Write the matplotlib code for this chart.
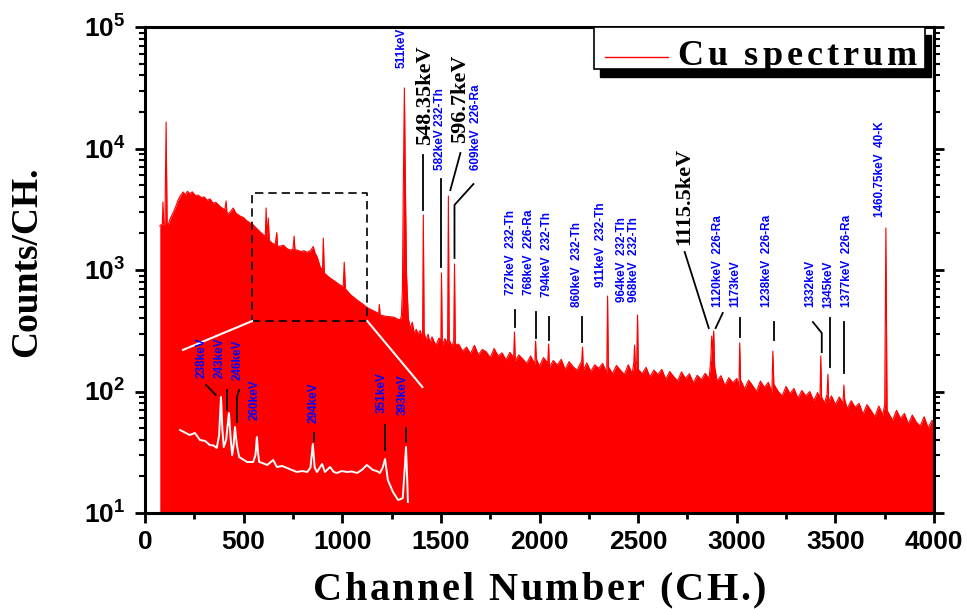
import matplotlib
matplotlib.use('Agg')
import matplotlib.pyplot as plt
from matplotlib.patches import Rectangle
from matplotlib.transforms import IdentityTransform
from matplotlib.ticker import LogLocator, NullFormatter

plt.rcParams['mathtext.fontset'] = 'custom'
plt.rcParams['mathtext.rm'] = 'Liberation Sans:bold'
plt.rcParams['mathtext.it'] = 'Liberation Sans:bold'
plt.rcParams['mathtext.bf'] = 'Liberation Sans:bold'

SANS = 'Liberation Sans'
SERIF = 'Liberation Serif'
BLUE = '#0000ff'

# ---- main spectrum (channel, counts) ----
spec_ch = [75, 80, 88, 91, 95, 101, 107, 112, 117, 130, 142, 155, 168, 180, 193, 205, 215,
           228, 240, 255, 269, 285, 300, 315, 330, 345, 360, 381, 395, 405, 411, 415, 421,
           435, 447, 460, 482, 500, 515, 533, 543, 560, 584, 600, 610, 614, 618, 625, 630,
           643, 660, 668, 672, 690, 702, 720, 736, 750, 756, 760, 770, 790, 805, 822, 840,
           853, 862, 873, 888, 900, 904, 909, 930, 954, 975, 990, 1005, 1010, 1016, 1040,
           1076, 1100, 1127, 1160, 1185, 1188, 1192, 1225, 1259, 1280, 1294,
           1300, 1305, 1309, 1315, 1320, 1326, 1335, 1345, 1355, 1365, 1375, 1385, 1395,
           1407, 1411, 1415, 1425, 1435, 1445, 1455, 1465, 1475, 1490, 1500, 1503, 1507,
           1520, 1534, 1538, 1542, 1556, 1565, 1569, 1573,
           1590, 1610, 1630, 1650, 1670, 1690, 1710, 1730, 1750, 1770, 1790, 1810, 1830,
           1850, 1869, 1873, 1877, 1895, 1915, 1935, 1955, 1976, 1980, 1984, 2000, 2020,
           2042, 2046, 2050, 2070, 2090, 2110, 2130, 2150, 2170, 2190, 2214, 2218, 2222,
           2240, 2260, 2280, 2300, 2320, 2341, 2345, 2349, 2370, 2390, 2410, 2430, 2450,
           2470, 2478, 2482, 2486, 2493, 2497, 2501, 2520, 2540, 2560, 2580, 2600, 2620,
           2640, 2660, 2680, 2700, 2720, 2740, 2760, 2780, 2800, 2820, 2840, 2860, 2868,
           2873, 2878, 2883, 2888, 2900, 2920, 2940, 2960, 2980, 3000, 3011, 3015, 3019,
           3040, 3060, 3080, 3100, 3120, 3140, 3160, 3178, 3183, 3188, 3210, 3230, 3250,
           3270, 3290, 3310, 3330, 3350, 3370, 3390, 3410, 3422, 3426, 3430, 3445, 3458,
           3462, 3466, 3480, 3500, 3520, 3539, 3543, 3547, 3560, 3580, 3600, 3620, 3640,
           3660, 3680, 3700, 3720, 3740, 3750, 3756, 3762, 3775, 3790, 3810, 3830, 3850,
           3870, 3890, 3910, 3930, 3950, 3970, 3990, 4000]
spec_counts = [2300, 2350, 2400, 3630, 2350, 2400, 16500, 2400, 2345, 2700, 2945, 3300, 3770, 4100, 4385, 4150, 4450,
               4250, 4400, 4100, 4140, 3950, 4000, 3750, 3850, 3550, 3600, 3330, 3200, 3150, 3700, 3000, 2880,
               3050, 3240, 2950, 2780, 2700, 2550, 2440, 2400, 2250, 2055, 1950, 1900, 3240, 1850, 2680, 1750,
               1670, 1620, 2030, 1560, 1580, 1600, 1500, 1460, 1480, 1900, 1470, 1460, 1420, 1440, 1400, 1450,
               1560, 1380, 1280, 1060, 1000, 1830, 945, 880, 825, 780, 750, 730, 1160, 700, 630,
               565, 530, 490, 460, 440, 520, 425, 415, 410, 395, 390,
               420, 700, 4000, 31500, 5000, 900, 400, 330, 372, 300, 325, 296, 318,
               270, 2840, 305, 262, 296, 250, 282, 258, 240, 275, 262, 945, 238,
               272, 248, 4060, 266, 236, 260, 1120, 244,
               245, 215, 232, 205, 240, 200, 222, 212, 190, 226, 196, 208, 182,
               210, 190, 309, 178, 200, 185, 170, 196, 168, 260, 185, 162, 190,
               172, 246, 158, 180, 165, 184, 152, 176, 160, 150, 178, 232, 150,
               172, 146, 166, 155, 170, 142, 611, 160, 140, 164, 150, 138, 166,
               140, 172, 241, 150, 180, 426, 152, 140, 158, 132, 150, 138, 152,
               126, 146, 133, 122, 145, 128, 140, 118, 136, 125, 141, 128, 180,
               286, 210, 315, 160, 122, 135, 112, 130, 118, 128, 110, 251, 125,
               105, 124, 112, 100, 122, 108, 119, 98, 215, 115, 100, 92, 110,
               96, 106, 88, 102, 92, 100, 84, 98, 88, 196, 90, 80, 95,
               139, 82, 92, 78, 90, 80, 113, 86, 72, 84, 74, 80, 65,
               78, 70, 62, 76, 64, 78, 2218, 70, 64, 58, 70, 60, 66,
               54, 64, 56, 52, 62, 50, 58, 53]

# ---- magnified inset (white curve) ----
inset_ch = [528, 549, 560, 571, 582, 592, 600, 607, 612, 616, 619, 622, 627, 633, 637, 640, 643,
            646, 650, 655, 665, 672, 685, 690, 693, 696, 698, 705, 715, 728, 736, 747, 758,
            768, 779, 790, 801, 808, 813, 817, 822, 833, 839, 850, 858, 865, 875, 886, 897,
            908, 918, 929, 942, 950, 957, 963, 968, 974, 985, 996, 1002, 1006, 1010, 1013,
            1016, 1017]
inset_counts = [2100, 2000, 2040, 1900, 1880, 1800, 1790, 1740, 2000, 2760, 2100, 1760, 1900, 2440, 1900, 1600, 1800,
                2160, 1800, 1560, 1500, 1460, 1460, 1600, 1960, 1600, 1460, 1440, 1400, 1500, 1360, 1380, 1340,
                1300, 1260, 1280, 1260, 1350, 1820, 1350, 1260, 1420, 1260, 1360, 1260, 1240, 1280, 1260, 1270,
                1240, 1300, 1400, 1300, 1280, 1240, 1350, 1520, 1100, 860, 700, 720, 740, 1300, 1760,
                1000, 660]

# ---- peak labels ----
blue_text = ["511keV", "582keV 232-Th", "609keV  226-Ra", "727keV  232-Th", "768keV  226-Ra",
             "794keV  232-Th", "860keV  232-Th", "911keV  232-Th", "964keV  232-Th",
             "968keV  232-Th", "1120keV  226-Ra", "1173keV", "1238keV  226-Ra", "1332keV",
             "1345keV", "1377keV  226-Ra", "1460.75keV  40-K"]
blue_ch = [1300, 1495, 1680, 1858, 1949, 2036, 2188, 2310, 2416, 2477, 2904, 2990, 3152, 3371,
           3462, 3558, 3726]
blue_cnt = [46000, 6650, 6650, 622, 622, 600, 496, 724, 546, 546, 496, 496, 496, 496, 490,
            496, 2730]

black_text = ["548.35keV", "596.7keV", "1115.5keV"]
black_ch = [1418, 1596, 2733]
black_cnt = [10700, 11100, 1607]

lead_ch = [[1411, 1411], [1503, 1503], [1599, 1548], [1665, 1569, 1569], [1878, 1878],
           [1980, 1980], [2046, 2046], [2213, 2213], [2736, 2858], [2929, 2893], [3015, 3015],
           [3188, 3188], [3386, 3431, 3431], [3472, 3472], [3543, 3543]]
lead_cnt = [[8840, 3120], [5610, 1059], [9180, 4550], [5100, 3430, 1256], [469, 340],
            [451, 276], [410, 265], [410, 255], [1406, 333], [443, 333], [403, 281],
            [373, 265], [373, 303, 211], [403, 159], [373, 142]]

inset_text = ["238keV", "243keV", "246keV", "260keV", "294keV", "351keV", "393keV"]
inset_lab_ch = [575, 614, 652, 689, 814, 960, 1007]
inset_lab_cnt = [3140, 3140, 3100, 2300, 2240, 2440, 2400]
inset_lead_ch = [[584, 605], [629, 629], [655, 650, 650], [815, 815], [968, 968], [1013, 1013]]
inset_lead_cnt = [[3000, 2800], [2900, 2500], [2900, 2760, 2260], [2040, 1880], [2200, 1700],
                  [2140, 1860]]

# zoom box in the main spectrum and the lines to the inset
box_ch = [543, 1127]
box_cnt = [380, 4300]
link_ch = [[543, 193], [1127, 1406]]
link_cnt = [[380, 220], [380, 109]]


def spaced_text(fig, s, x, y, gap, align='center', **kw):
    r = fig.canvas.get_renderer()

    def width(txt):
        t = fig.text(0, 0, txt + '|', transform=IdentityTransform(), **kw)
        w = t.get_window_extent(r).width
        t.remove()
        return w

    bar = width('')
    offs = [width(s[:i]) - bar + gap * i for i in range(len(s))]
    total = width(s) - bar + gap * (len(s) - 1)
    x0 = x - total / 2 if align == 'center' else x
    for c, o in zip(s, offs):
        if c != ' ':
            fig.text(x0 + o, y, c, transform=IdentityTransform(), ha='left',
                     va='baseline', **kw)


W, H = 967, 609
fig = plt.figure(figsize=(W / 100, H / 100), dpi=100)
ax = fig.add_axes([145 / W, 1 - 513 / H, 789 / W, 486 / H])

ax.fill_between(spec_ch, spec_counts, 10, color='red', lw=0, zorder=1)
ax.plot(spec_ch, spec_counts, color='red', lw=0.8, zorder=1)

ax.set_yscale('log')
ax.set_xlim(0, 4000)
ax.set_ylim(10, 1e5)

# dashed zoom box and white connector lines
ax.plot([box_ch[0], box_ch[1], box_ch[1], box_ch[0], box_ch[0]],
        [box_cnt[0], box_cnt[0], box_cnt[1], box_cnt[1], box_cnt[0]],
        color='black', ls=(0, (5, 3)), lw=1.2, zorder=3)
for xs, ys in zip(link_ch, link_cnt):
    ax.plot(xs, ys, color='white', lw=1.5, zorder=3)

for t, x, y in zip(blue_text, blue_ch, blue_cnt):
    ax.text(x, y, t, rotation=90, ha='center', va='bottom', color=BLUE,
            fontsize=8.5, fontfamily=SANS, fontweight='bold', zorder=5)
for t, x, y in zip(black_text, black_ch, black_cnt):
    ax.text(x, y, t, rotation=90, ha='center', va='bottom', color='black',
            fontsize=16, fontfamily=SERIF, fontweight='bold', zorder=5)
for xs, ys in zip(lead_ch, lead_cnt):
    ax.plot(xs, ys, color='black', lw=1.3, zorder=4)

# axes styling
for sp in ax.spines.values():
    sp.set_linewidth(2.2)
ax.set_xticks(range(0, 4001, 500))
ax.set_xticks(range(250, 4000, 500), minor=True)
ax.set_yticks([10, 100, 1000, 10000, 100000])
ax.set_yticklabels([r'$10^{1}$', r'$10^{2}$', r'$10^{3}$', r'$10^{4}$', r'$10^{5}$'])
ax.yaxis.set_minor_locator(LogLocator(base=10, subs=range(2, 10)))
ax.yaxis.set_minor_formatter(NullFormatter())
ax.tick_params(axis='x', which='major', direction='out', length=7, width=2, labelsize=19, pad=5)
ax.tick_params(axis='x', which='minor', direction='out', length=4, width=2)
ax.tick_params(axis='y', which='major', direction='out', length=7, width=2, labelsize=19,
               pad=7, right=True)
ax.tick_params(axis='y', which='minor', direction='out', length=4, width=1.5, right=True)
for lbl in ax.get_xticklabels():
    lbl.set_fontfamily(SANS)
    lbl.set_fontweight('bold')

# legend drawn by hand (box with black shadow)
ax.add_patch(Rectangle((0.5766, 0.8971), 0.4196, 0.0864, transform=ax.transAxes,
                       facecolor='black', edgecolor='black', clip_on=False, zorder=9))
ax.add_patch(Rectangle((0.569, 0.9136), 0.4196, 0.0864, transform=ax.transAxes,
                       facecolor='white', edgecolor='black', lw=1.2, clip_on=False, zorder=10))
ax.plot([0.583, 0.663], [0.938, 0.938], transform=ax.transAxes, color='red', lw=1,
        zorder=11, clip_on=False)

# inset with the magnified low-energy part
ax_in = fig.add_axes([170 / W, 1 - 510 / H, 250 / W, 170 / H])
ax_in.set_xlim(506.6, 1043)
ax_in.set_ylim(500, 3900)
ax_in.axis('off')
ax_in.patch.set_alpha(0)
ax_in.plot(inset_ch, inset_counts, color='white', lw=1.4, clip_on=False)
for t, x, y in zip(inset_text, inset_lab_ch, inset_lab_cnt):
    ax_in.text(x, y, t, rotation=90, ha='center', va='bottom', color=BLUE,
               fontsize=8.5, fontfamily=SANS, fontweight='bold', clip_on=False)
for xs, ys in zip(inset_lead_ch, inset_lead_cnt):
    ax_in.plot(xs, ys, color='black', lw=1.3, clip_on=False)

# labels
fig.text(27, H - 262, 'Counts/CH.', rotation=90, ha='center', va='center',
         transform=IdentityTransform(), fontsize=27, fontfamily=SERIF, fontweight='bold')
spaced_text(fig, 'Channel Number (CH.)', 539.5, H - 600, 2.5, fontsize=29,
            fontfamily=SERIF, fontweight='bold')
spaced_text(fig, 'Cu spectrum', 677, H - 65, 4, align='left', fontsize=26,
            fontfamily=SERIF, fontweight='bold', zorder=12)

fig.savefig('out.png', dpi=100)
